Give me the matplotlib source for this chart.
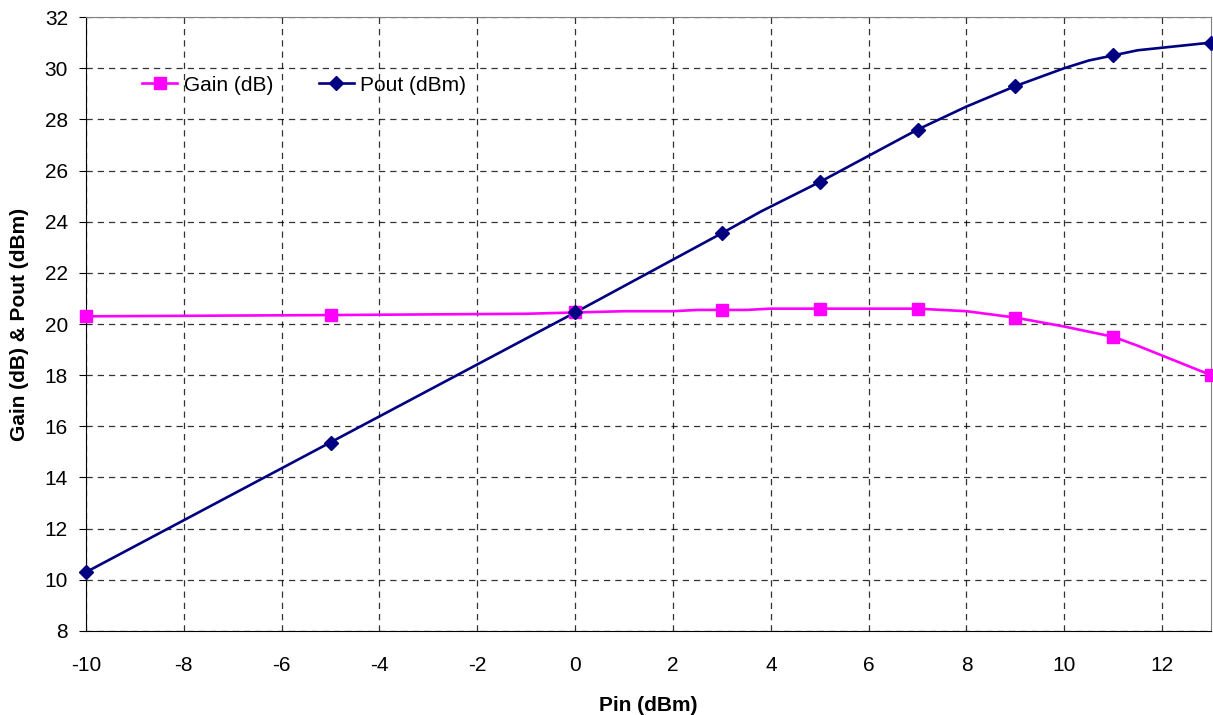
import matplotlib.pyplot as plt

plt.rcParams["font.family"] = ["Liberation Sans", "DejaVu Sans"]
plt.rcParams["axes.unicode_minus"] = False

# marker points
pin_mk = [-10, -5, 0, 3, 5, 7, 9, 11, 13]
gain_mk = [20.3, 20.35, 20.45, 20.55, 20.6, 20.6, 20.25, 19.5, 18.0]
pout_mk = [10.3, 15.35, 20.45, 23.55, 25.55, 27.6, 29.3, 30.5, 31.0]

# line points (smoothed curve)
pin_gain_ln = [-10, -5, -1, 0, 1, 2, 2.5, 3, 3.5, 4, 7, 8, 9, 10, 11, 11.5, 13]
gain_ln = [20.3, 20.35, 20.4, 20.45, 20.5, 20.5, 20.55, 20.55, 20.55, 20.6,
           20.6, 20.5, 20.25, 19.9, 19.5, 19.15, 18.0]
pin_pout_ln = [-10, 0, 3, 3.8, 5, 7, 8, 9, 10, 10.5, 11, 11.5, 13]
pout_ln = [10.3, 20.45, 23.55, 24.4, 25.55, 27.6, 28.5, 29.3, 30.0, 30.3, 30.5, 30.7, 31.0]

gain_col = "#FF00FF"
pout_col = "#000080"

fig = plt.figure(figsize=(12.13, 7.15), dpi=100)
ax = fig.add_axes([0.0709, 0.1175, 0.9275, 0.8587])

ax.plot(pin_gain_ln, gain_ln, color=gain_col, lw=1.9, zorder=3, clip_on=False)
ax.plot(pin_mk, gain_mk, ls="none", marker="s", ms=8.5, color=gain_col, zorder=4, clip_on=False)
ax.plot(pin_pout_ln, pout_ln, color=pout_col, lw=1.9, zorder=3, clip_on=False)
ax.plot(pin_mk, pout_mk, ls="none", marker="D", ms=7.5, color=pout_col, zorder=5, clip_on=False)

# legend handles
ax.plot([], [], color=gain_col, lw=1.9, marker="s", ms=8.5, label="Gain (dB)")
ax.plot([], [], color=pout_col, lw=1.9, marker="D", ms=7.5, label="Pout (dBm)")
ax.legend(loc="upper left", bbox_to_anchor=(0.033, 0.935), ncol=2, frameon=False,
          fontsize=15, handlelength=1.7, handletextpad=0.3, columnspacing=2.2)

ax.set_xlim(-10, 13)
ax.set_ylim(8, 32)
ax.set_xticks(range(-10, 14, 2))
ax.set_yticks(range(8, 33, 2))
ax.grid(True, color="black", ls=(0, (5, 4)), lw=0.9, alpha=0.8)
ax.tick_params(axis="x", length=0, labelsize=15, pad=18)
ax.tick_params(axis="y", length=5, direction="out", labelsize=15, pad=8)
for s in ax.spines.values():
    s.set_color("#808080")
ax.spines["left"].set_color("black")
ax.spines["bottom"].set_color("black")

ax.set_xlabel("Pin (dBm)", fontsize=15, fontweight="bold", labelpad=15)
ax.set_ylabel("Gain (dB) & Pout (dBm)", fontsize=15, fontweight="bold", labelpad=11)

fig.savefig("out.png", dpi=100)
